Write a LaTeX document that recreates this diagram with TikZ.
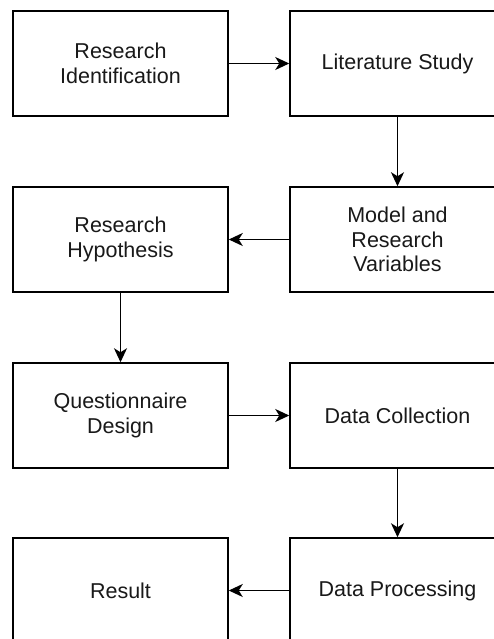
\documentclass[tikz,border=0pt]{standalone}
\usepackage{fontspec}
\setmainfont{Liberation Sans}
\usetikzlibrary{arrows.meta}
\begin{document}
\begin{tikzpicture}[x=1pt,y=-1pt,
  stepbox/.style={draw=black,line width=1.5pt,minimum width=215pt,minimum height=105pt,
    inner sep=0pt,align=center,font=\fontsize{21.5}{24.5}\selectfont,text=black!90},
  conn/.style={line width=1.6pt,-{Stealth[length=14pt,width=13pt,inset=4pt]}}]
\clip (0,0) rectangle (494,639);
\fill[white] (0,0) rectangle (494,639);
\node[stepbox] (ri) at (120.5,63.5) {Research\\Identification};
\node[stepbox] (ls) at (397.5,63.5) {Literature Study};
\node[stepbox] (rh) at (120.5,239.5) {Research\\Hypothesis};
\node[stepbox] (mv) at (397.5,239.5) {Model and\\Research\\Variables};
\node[stepbox] (qd) at (120.5,415.5) {Questionnaire\\Design};
\node[stepbox] (dc) at (397.5,415.5) {Data Collection};
\node[stepbox] (re) at (120.5,590.5) {Result};
\node[stepbox] (dp) at (397.5,590.5) {Data Processing};
\draw[conn] (ri) -- (ls);
\draw[conn] (ls) -- (mv);
\draw[conn] (mv) -- (rh);
\draw[conn] (rh) -- (qd);
\draw[conn] (qd) -- (dc);
\draw[conn] (dc) -- (dp);
\draw[conn] (dp) -- (re);
\end{tikzpicture}
\end{document}
